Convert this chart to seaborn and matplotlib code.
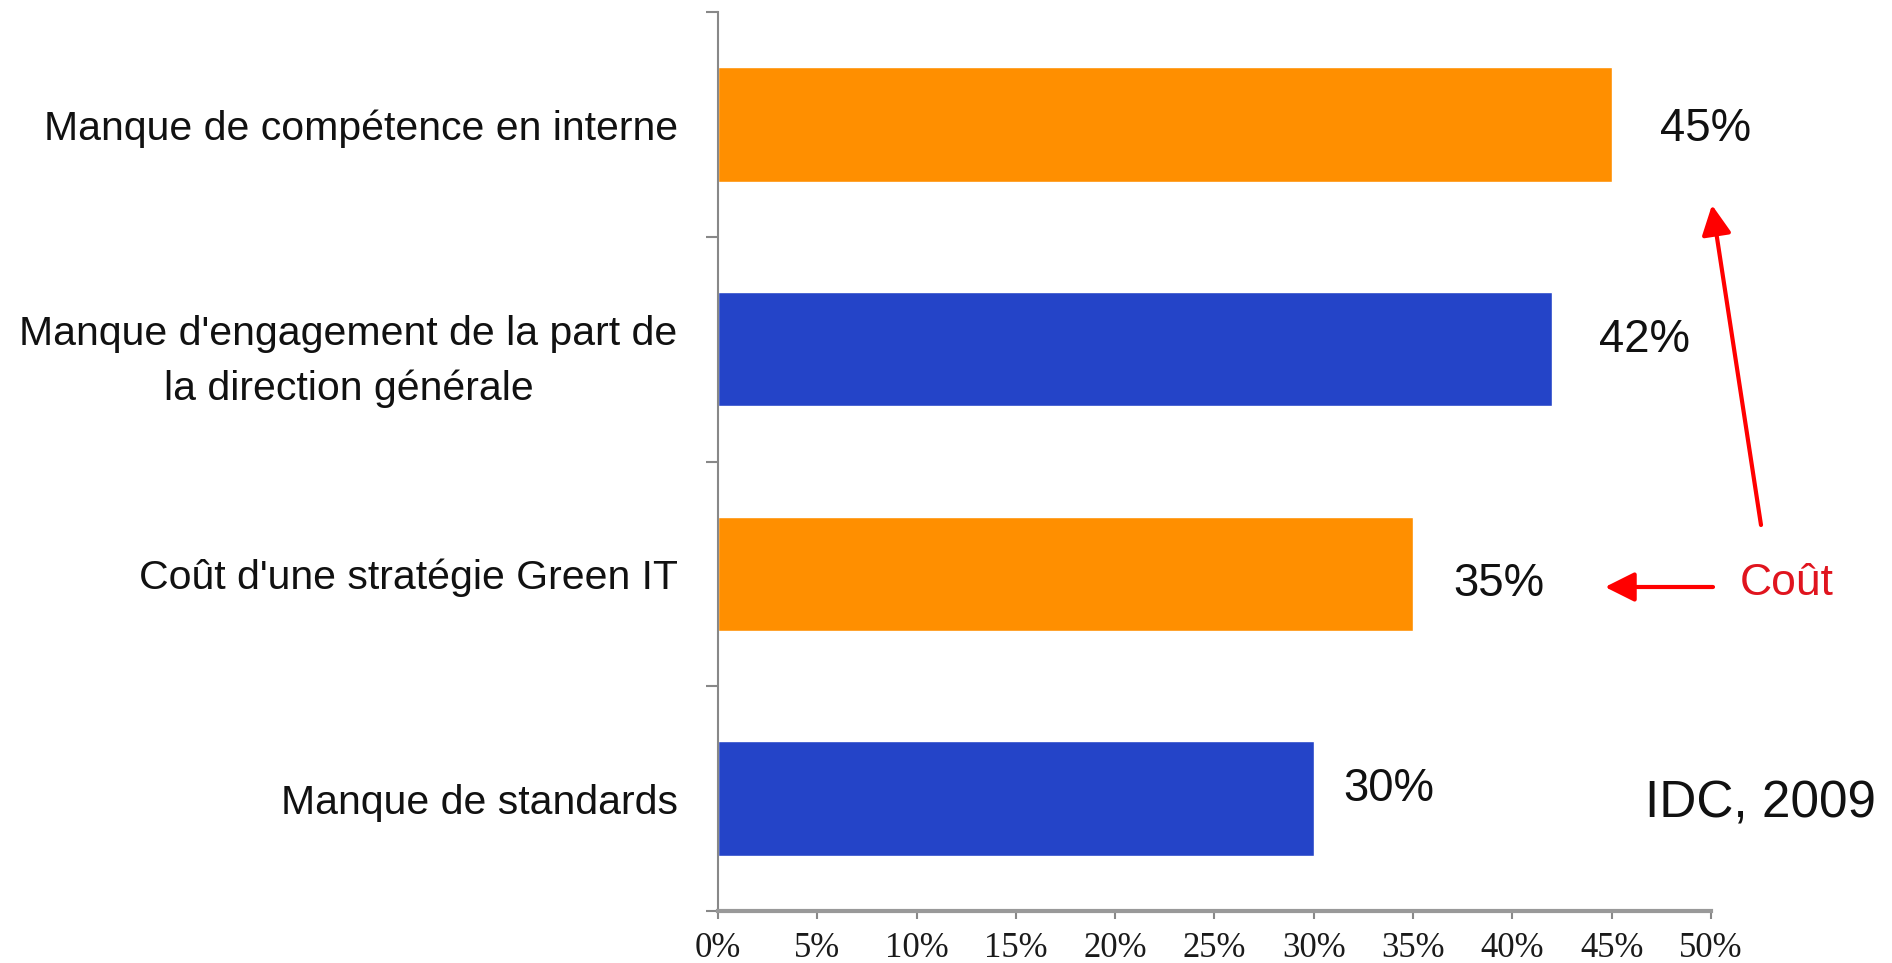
import matplotlib
matplotlib.use("Agg")
import matplotlib.pyplot as plt
import seaborn as sns
import numpy as np
import pandas as pd
from matplotlib import font_manager

# ---- data ----
categories = [
    "Manque de compétence en interne",
    "Manque d'engagement de la part de\nla direction générale",
    "Coût d'une stratégie Green IT",
    "Manque de standards",
]
values = [45, 42, 35, 30]
value_labels = ["45%", "42%", "35%", "30%"]
bar_colors = ["#FF8F00", "#2444C8", "#FF8F00", "#2444C8"]
x_ticks = [0, 5, 10, 15, 20, 25, 30, 35, 40, 45, 50]
x_tick_labels = [f"{t}%" for t in x_ticks]
source_text = "IDC, 2009"
callout_text = "Coût"

# ---- label placement (style, points) ----
label_dx = [34.5, 34, 29, 21]
label_dy = [0, 9.4, -4.3, 10]

sns.set_theme(style="white")
available = {f.name for f in font_manager.fontManager.ttflist}
if "Liberation Sans Narrow" in available:
    sans, k = "Liberation Sans Narrow", 1.0
else:
    sans, k = "Liberation Sans", 0.82
plt.rcParams["font.family"] = [sans, "DejaVu Sans"]

fig = plt.figure(figsize=(18.92, 9.63), dpi=100)
fig.patch.set_facecolor("white")
ax = fig.add_axes([0.3795, 0.0540, 0.5248, 0.9335])

df = pd.DataFrame({"cat": categories, "val": values})
sns.barplot(data=df, x="val", y="cat", hue="cat", palette=bar_colors,
            legend=False, width=0.51, orient="h", ax=ax, saturation=1)

ax.set_xlim(0, 50)
ax.set_ylim(3.5, -0.5)
ax.set_xlabel("")
ax.set_ylabel("")

ax.set_xticks(x_ticks)
ax.set_xticklabels(x_tick_labels, fontfamily="Liberation Serif", fontsize=25,
                   color="#1a1a1a")
ax.set_yticks(range(len(categories)))
ax.set_yticklabels(categories, fontsize=36 * k, multialignment="center",
                   color="#111111", linespacing=1.55)
ax.set_yticks(np.arange(-0.5, len(categories), 1), minor=True)
ax.tick_params(axis="y", which="major", length=0, pad=29, left=False)
ax.tick_params(axis="y", which="minor", length=8.6, width=1.5,
               color="#888888", direction="out", left=True)
ax.tick_params(axis="x", which="major", length=6, width=1.5, color="#888888",
               direction="out", pad=9, bottom=True)

for s in ["top", "right"]:
    ax.spines[s].set_visible(False)
ax.spines["left"].set_color("#888888")
ax.spines["left"].set_linewidth(1.5)
ax.spines["bottom"].set_color("#999999")
ax.spines["bottom"].set_linewidth(3)
ax.grid(False)

# value labels
digit_half = 14.4 * k  # points from centre to baseline
for i, (v, lab) in enumerate(zip(values, value_labels)):
    ax.annotate(lab, xy=(v, i), xytext=(label_dx[i], label_dy[i] - digit_half),
                textcoords="offset points", ha="left", va="baseline",
                fontsize=40 * k, color="#111111")

# source text
fig.text(1645 / 1892, 1 - 817 / 963, source_text, ha="left", va="baseline",
         fontsize=45 * k, color="#111111")
# callout
fig.text(1740 / 1892, 1 - 595 / 963, callout_text, ha="left", va="baseline",
         fontsize=39 * k, color="#E0141E")

arrow_kw = dict(arrowstyle="-|>,head_length=1.0,head_width=0.5", color="#FF0000",
                lw=3, mutation_scale=18, shrinkA=0, shrinkB=0)
ax.annotate("", xy=(1712 / 1892, 1 - 205 / 963), xycoords="figure fraction",
            xytext=(1761 / 1892, 1 - 525 / 963), textcoords="figure fraction",
            arrowprops=arrow_kw, annotation_clip=False)
ax.annotate("", xy=(1605 / 1892, 1 - 587 / 963), xycoords="figure fraction",
            xytext=(1713 / 1892, 1 - 587 / 963), textcoords="figure fraction",
            arrowprops=arrow_kw, annotation_clip=False)

fig.savefig("out.png", dpi=100, facecolor="white")
